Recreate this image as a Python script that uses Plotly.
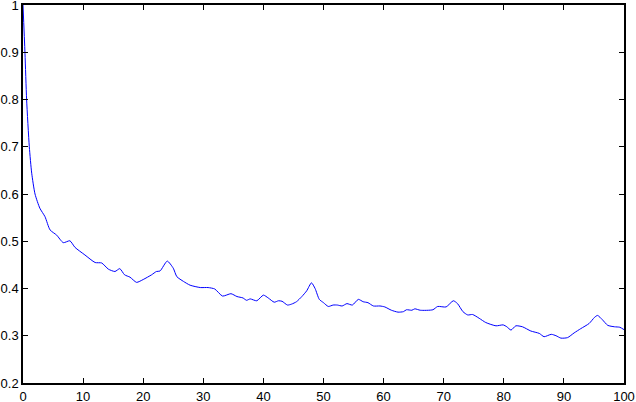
import plotly.graph_objects as go

x_vals = [0, 0.33, 0.6, 1.05, 1.45, 2.0, 2.8, 3.66, 4.5, 5.6, 6.7, 7.8, 8.65, 10.3, 12.0, 13.1,
          14.2, 15.3, 16.1, 16.9, 17.8, 18.9, 20.0, 21.4, 22.2, 22.8, 24.0, 25.0, 25.6, 26.7,
          27.8, 29.5, 30.8, 31.9, 33.2, 34.6, 35.6, 36.6, 37.2, 37.8, 38.9, 40.0, 40.8, 41.8,
          42.5, 43.1, 44.0, 44.7, 45.5, 46.4, 47.2, 48.0, 48.6, 49.3, 50.0, 50.8, 51.6, 52.3,
          53.1, 53.9, 54.8, 55.8, 56.6, 57.4, 58.3, 59.4, 60.2, 61.3, 62.4, 63.3, 63.8, 64.7,
          65.2, 66.1, 68.2, 69.0, 70.4, 71.6, 72.3, 73.2, 74.0, 74.8, 75.9, 77.0, 78.7, 79.9,
          80.5, 81.2, 82.0, 83.1, 84.5, 85.9, 86.7, 87.9, 88.7, 89.5, 90.6, 91.7, 92.8, 94.2,
          95.1, 95.6, 96.4, 97.3, 98.4, 99.3, 100.0]
y_vals = [1.0, 0.898, 0.80, 0.70, 0.644, 0.60, 0.57, 0.552, 0.524, 0.513, 0.497, 0.501, 0.487,
          0.471, 0.455, 0.454, 0.441, 0.436, 0.442, 0.429, 0.424, 0.413, 0.419, 0.429, 0.436,
          0.437, 0.458, 0.443, 0.425, 0.415, 0.407, 0.402, 0.402, 0.399, 0.384, 0.389, 0.383,
          0.380, 0.375, 0.378, 0.374, 0.386, 0.380, 0.371, 0.374, 0.373, 0.365, 0.367, 0.372,
          0.383, 0.395, 0.412, 0.400, 0.377, 0.370, 0.362, 0.365, 0.365, 0.363, 0.368, 0.365,
          0.377, 0.372, 0.370, 0.363, 0.363, 0.361, 0.354, 0.350, 0.351, 0.355, 0.354, 0.357,
          0.354, 0.355, 0.362, 0.361, 0.374, 0.368, 0.351, 0.344, 0.345, 0.337, 0.328, 0.321,
          0.323, 0.319, 0.312, 0.321, 0.319, 0.310, 0.305, 0.298, 0.303, 0.300, 0.295, 0.296,
          0.306, 0.315, 0.326, 0.339, 0.343, 0.334, 0.322, 0.319, 0.318, 0.313]

x_ticks = [0, 10, 20, 30, 40, 50, 60, 70, 80, 90, 100]
y_ticks = [0.2, 0.3, 0.4, 0.5, 0.6, 0.7, 0.8, 0.9, 1]
y_tick_text = ["0.2", "0.3", "0.4", "0.5", "0.6", "0.7", "0.8", "0.9", "1"]

fig = go.Figure()
fig.add_trace(go.Scatter(x=x_vals, y=y_vals, mode="lines",
                         line=dict(color="#0000ff", width=1, shape="spline", smoothing=0.6),
                         showlegend=False))

axis_common = dict(showgrid=False, zeroline=False, showline=True, linecolor="black",
                   linewidth=1.5, mirror="ticks", ticks="inside", ticklen=5, tickcolor="black",
                   tickwidth=1, automargin=False, ticklabeloverflow="allow",
                   tickfont=dict(family="Liberation Sans, Arial, sans-serif", size=13, color="black"))

fig.update_xaxes(range=[0, 100], tickvals=x_ticks, ticktext=[str(t) for t in x_ticks],
                 ticklabelstandoff=1, **axis_common)
fig.update_yaxes(range=[0.2, 1], tickvals=y_ticks, ticktext=y_tick_text, **axis_common)

fig.update_layout(width=636, height=402, margin=dict(l=23, r=12, t=5, b=19),
                  plot_bgcolor="white", paper_bgcolor="white")

fig.write_html("out.html", config={"displayModeBar": False},
               post_script="document.body.style.margin='0';document.body.style.padding='0';")
